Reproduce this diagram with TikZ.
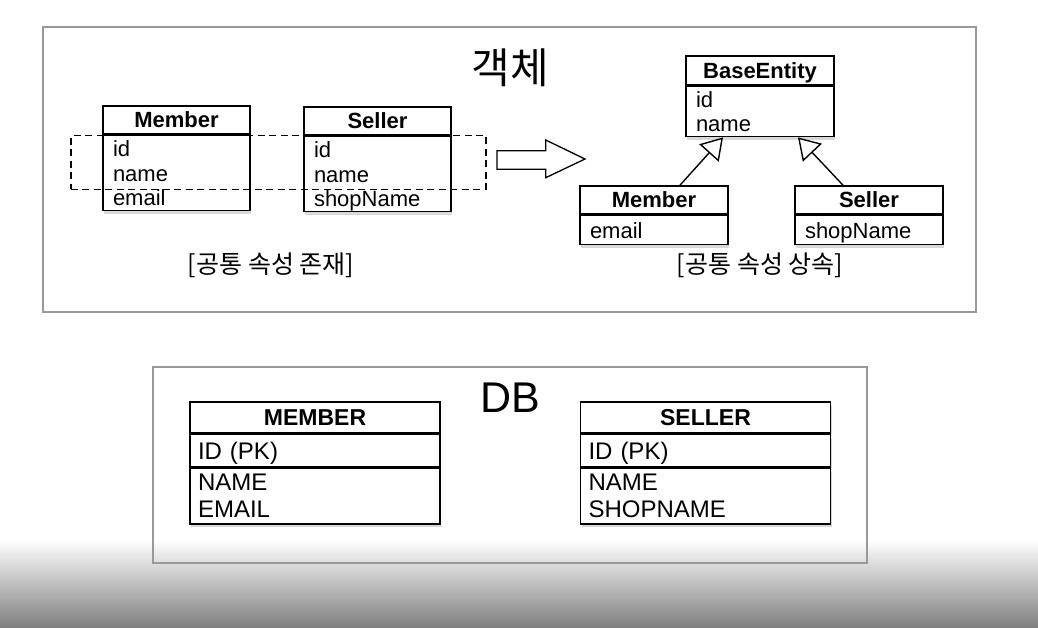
\documentclass[tikz,border=0pt]{standalone}
\usepackage{fontspec}
\setmainfont{Liberation Sans}
\newfontfamily\krfont{Noto Sans CJK KR}
\usetikzlibrary{positioning,arrows.meta,shadows}
\newcommand\nodp[1]{\raisebox{0pt}[\height][0pt]{#1}}

\begin{document}
\begin{tikzpicture}[x=1pt,y=-1pt,
    frame/.style={draw=black!40, line width=1.3pt},
    boxshadow/.style={drop shadow={shadow xshift=1pt, shadow yshift=-3pt, opacity=.3}},
    part/.style={draw, fill=white, line width=1.6pt, inner sep=0pt, boxshadow},
    head/.style={part, font=\fontsize{22}{24.5}\selectfont\bfseries},
    attr/.style={part, align=left, inner xsep=10pt, font=\fontsize{22}{24.5}\selectfont},
    dbhead/.style={part, minimum width=250pt, font=\fontsize{23}{27}\selectfont\bfseries},
    dbattr/.style={part, align=left, inner xsep=8pt, text width=234pt, font=\fontsize{24}{27}\selectfont},
    inherit/.style={line width=1.4pt, -{Triangle[open, length=21pt, width=26pt, fill=white]}},
    krlabel/.style={font=\krfont\fontsize{25}{28}\selectfont}
  ]

  \useasboundingbox (0,0) rectangle (1038,627);
  \fill[white] (0,0) rectangle (1038,627);
  \shade[top color=white, bottom color=black!50] (0,540) rectangle (1038,627);

  \draw[frame] (43,27) rectangle (976,312);
  \draw[frame] (153,367) rectangle (867,563);

  \node[font=\krfont\fontsize{42}{46}\selectfont] (t1) at (510,68) {객체};
  \node[font=\fontsize{43}{46}\selectfont] (t2) at (510,398) {DB};

  % objects, left side
  \begin{scope}[every node/.style={text width=127pt}]
    \node[head, text width=, minimum width=147pt, minimum height=28pt] (m1) at (176.5,120) {Member};
    \node[attr, below=0pt of m1, minimum height=75pt] (m1a) {id\\name\\\nodp{email}};
    \node[head, text width=, minimum width=147pt, minimum height=28pt] (s1) at (377.5,121) {Seller};
    \node[attr, below=0pt of s1, minimum height=75pt] (s1a) {id\\name\\\nodp{shopName}};
  \end{scope}

  \node[draw, line width=1.4pt, dash pattern=on 7pt off 4.5pt, minimum width=415pt, minimum height=53.6pt] (c1) at (278.4,162.5) {};
  \node[krlabel] (l1) at (271,265) {[공통 속성 존재]};

  \draw[line width=1.3pt] (497,150.7) -- (545.7,150.7) -- (545.7,140) -- (585,159)
    -- (545.7,177.7) -- (545.7,169.3) -- (497,169.3) -- cycle;

  % objects, right side
  \begin{scope}[every node/.style={text width=128pt}]
    \node[head, text width=, minimum width=148pt, minimum height=29pt] (b) at (760,70.5) {\nodp{BaseEntity}};
    \node[attr, below=0pt of b, minimum height=50pt] (ba) {id\\\nodp{name}};
    \node[head, text width=, minimum width=148pt, minimum height=28pt] (m2) at (654,200) {Member};
    \node[attr, below=0pt of m2, minimum height=29pt] (m2a) {\nodp{email}};
    \node[head, text width=, minimum width=148pt, minimum height=28pt] (s2) at (869,200) {Seller};
    \node[attr, below=0pt of s2, minimum height=29pt] (s2a) {\nodp{shopName}};
  \end{scope}

  \draw[inherit] ([xshift=26pt]m2.north) -- ([xshift=-37pt]ba.south);
  \draw[inherit] ([xshift=-26pt]s2.north) -- ([xshift=38pt]ba.south);

  \node[krlabel] (l2) at (760,265) {[공통 속성 상속]};

  % tables
  \node[dbhead, minimum height=31pt] (dm) at (315,417.5) {MEMBER};
  \node[dbattr, below=0pt of dm, minimum height=32pt] (dmk) {\nodp{ID (PK)}};
  \node[dbattr, below=0pt of dmk, minimum height=56pt] (dmc) {NAME\\EMAIL};
  \node[dbhead, minimum height=31pt] (ds) at (705.5,417.5) {SELLER};
  \node[dbattr, below=0pt of ds, minimum height=32pt] (dsk) {\nodp{ID (PK)}};
  \node[dbattr, below=0pt of dsk, minimum height=56pt] (dsc) {NAME\\SHOPNAME};

\end{tikzpicture}
\end{document}
